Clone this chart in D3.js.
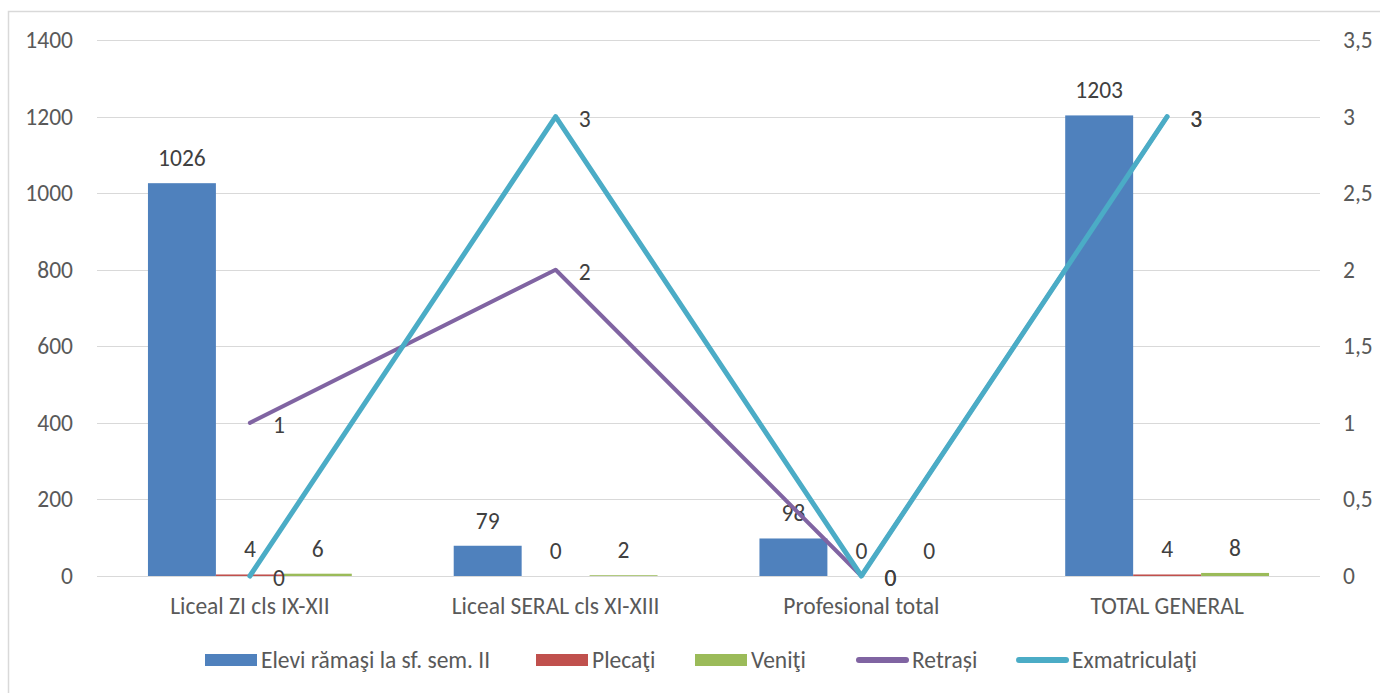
<!DOCTYPE html>
<html><head><meta charset="utf-8">
<script src="https://cdn.jsdelivr.net/npm/d3@7"></script>
<style>body{margin:0;background:#fff}svg{display:block}</style>
</head><body>
<script>
const categories = ["Liceal ZI cls IX-XII", "Liceal SERAL cls XI-XIII", "Profesional total", "TOTAL GENERAL"];
const elevi = [1026, 79, 98, 1203];
const plecati = [4, 0, 0, 4];
const veniti = [6, 2, 0, 8];
const retrasi = [1, 2, 0, 3];
const exmatriculati = [0, 3, 0, 3];
const leftTicks = [0, 200, 400, 600, 800, 1000, 1200, 1400];
const rightTicks = [0, 0.5, 1, 1.5, 2, 2.5, 3, 3.5];
const barSeries = [
  {name: "Elevi rămaşi la sf. sem. II", values: elevi, color: "#4F81BD"},
  {name: "Plecaţi", values: plecati, color: "#C0504D"},
  {name: "Veniţi", values: veniti, color: "#9BBB59"}
];
const lineSeries = [
  {name: "Retrași", values: retrasi, color: "#8064A2", width: 4},
  {name: "Exmatriculaţi", values: exmatriculati, color: "#4BACC6", width: 5}
];

(function () {
const W = 1380, H = 693;
const FONT = "Carlito, Calibri, Lato, sans-serif";
const FS = 23.5;
const svg = d3.select("body").append("svg").attr("width", W).attr("height", H);
svg.append("rect").attr("x", 8.5).attr("y", 11.5).attr("width", 1400).attr("height", 700)
  .attr("fill", "#fff").attr("stroke", "#d9d9d9").attr("stroke-width", 1.5);

const pLeft = 97, pRight = 1320, pTop = 40, pBottom = 576;
const x0 = d3.scaleBand().domain(categories).range([pLeft, pRight]).padding(0);
const bw = x0.bandwidth();
const gap = bw * 0.75 / 4.5;
const x1 = d3.scaleBand().domain(barSeries.map(d => d.name)).range([gap, bw - gap]).padding(0);
const yL = d3.scaleLinear().domain([0, 1400]).range([pBottom, pTop]);
const yR = d3.scaleLinear().domain([0, 3.5]).range([pBottom, pTop]);

// gridlines
svg.append("g").selectAll("line").data(leftTicks).join("line")
  .attr("x1", pLeft).attr("x2", pRight)
  .attr("y1", d => Math.round(yL(d)) + 0.5).attr("y2", d => Math.round(yL(d)) + 0.5)
  .attr("stroke", "#d9d9d9").attr("stroke-width", 1);

// left axis
const axL = svg.append("g").attr("transform", `translate(${pLeft},0)`)
  .call(d3.axisLeft(yL).tickValues(leftTicks).tickFormat(d3.format("d")).tickSize(0).tickPadding(24));
axL.select(".domain").remove();
axL.selectAll("text").attr("font-family", FONT).attr("font-size", FS).attr("fill", "#595959");

// right axis
const fmtR = d => String(d).replace(".", ",");
const axR = svg.append("g").attr("transform", `translate(${pRight},0)`)
  .call(d3.axisRight(yR).tickValues(rightTicks).tickFormat(fmtR).tickSize(0).tickPadding(23));
axR.select(".domain").remove();
axR.selectAll("text").attr("font-family", FONT).attr("font-size", FS).attr("fill", "#595959");

// x axis labels
const axX = svg.append("g").attr("transform", `translate(0,${pBottom})`)
  .call(d3.axisBottom(x0).tickSize(0).tickPadding(21));
axX.select(".domain").remove();
axX.selectAll("text").attr("font-family", FONT).attr("font-size", FS).attr("fill", "#595959");

// bars
barSeries.forEach(s => {
  svg.append("g").selectAll("rect").data(categories).join("rect")
    .attr("x", c => x0(c) + x1(s.name))
    .attr("width", x1.bandwidth())
    .attr("y", (c, i) => yL(s.values[i]))
    .attr("height", (c, i) => Math.max(0, pBottom - yL(s.values[i])))
    .attr("fill", s.color);
});
barSeries.forEach(s => {
  svg.append("g").selectAll("text").data(categories).join("text")
    .attr("x", c => x0(c) + x1(s.name) + x1.bandwidth() / 2)
    .attr("y", (c, i) => yL(s.values[i]) - 25)
    .attr("text-anchor", "middle").attr("dominant-baseline", "central")
    .attr("font-family", FONT).attr("font-size", FS).attr("fill", "#404040")
    .text((c, i) => s.values[i]);
});

// lines
const cx = c => x0(c) + bw / 2;
lineSeries.forEach(s => {
  const line = d3.line().x((d, i) => cx(categories[i])).y(d => yR(d));
  svg.append("path").datum(s.values).attr("d", line)
    .attr("fill", "none").attr("stroke", s.color).attr("stroke-width", s.width)
    .attr("stroke-linejoin", "round").attr("stroke-linecap", "round");
});
lineSeries.forEach(s => {
  svg.append("g").selectAll("text").data(s.values).join("text")
    .attr("x", (d, i) => cx(categories[i]) + 29)
    .attr("y", d => yR(d) + 2)
    .attr("text-anchor", "middle").attr("dominant-baseline", "central")
    .attr("font-family", FONT).attr("font-size", FS).attr("fill", "#404040")
    .text(d => d);
});

// legend
const legendItems = [
  {name: barSeries[0].name, color: barSeries[0].color, type: "rect", x: 205},
  {name: barSeries[1].name, color: barSeries[1].color, type: "rect", x: 536},
  {name: barSeries[2].name, color: barSeries[2].color, type: "rect", x: 695},
  {name: lineSeries[0].name, color: lineSeries[0].color, type: "line", x: 856},
  {name: lineSeries[1].name, color: lineSeries[1].color, type: "line", x: 1016}
];
const ly = 660;
const lg = svg.append("g");
legendItems.forEach(it => {
  if (it.type === "rect") {
    lg.append("rect").attr("x", it.x).attr("y", ly - 6).attr("width", 52).attr("height", 12).attr("fill", it.color);
  } else {
    lg.append("line").attr("x1", it.x + 3).attr("x2", it.x + 50).attr("y1", ly).attr("y2", ly)
      .attr("stroke", it.color).attr("stroke-width", 6).attr("stroke-linecap", "round");
  }
  lg.append("text").attr("x", it.x + 56).attr("y", ly).attr("dominant-baseline", "central")
    .attr("font-family", FONT).attr("font-size", FS).attr("fill", "#595959").text(it.name);
});
})();
</script>
</body></html>
